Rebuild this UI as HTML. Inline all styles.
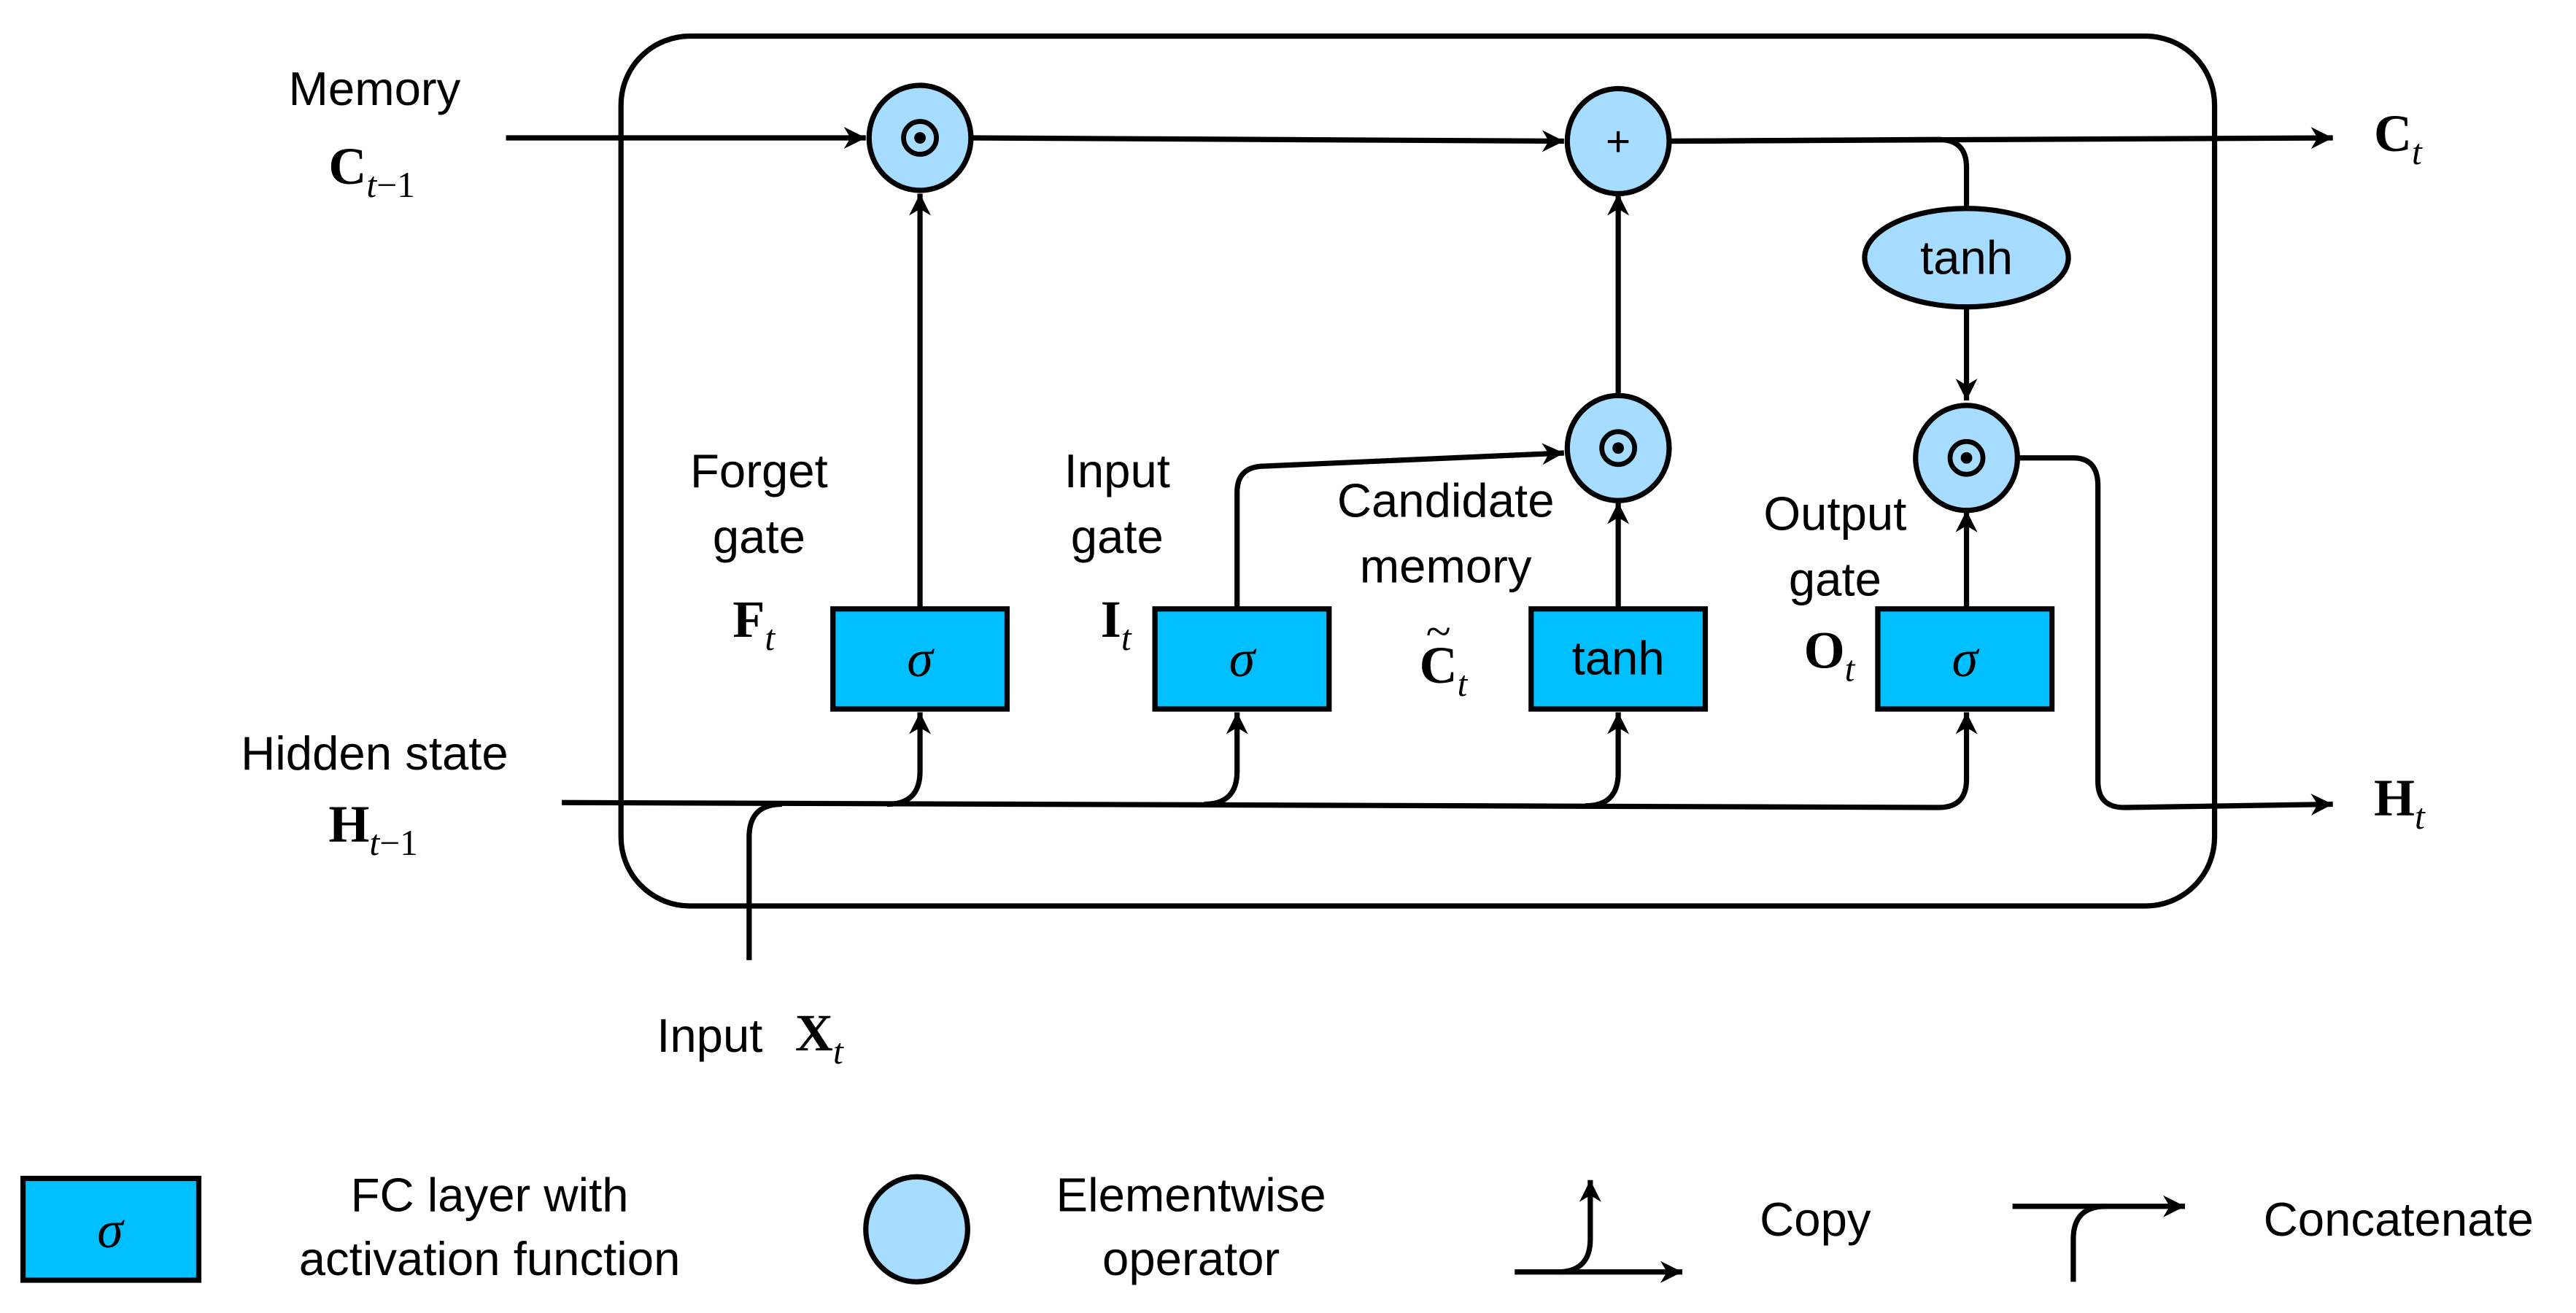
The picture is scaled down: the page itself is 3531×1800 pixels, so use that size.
<!DOCTYPE html>
<html><head><meta charset="utf-8"><style>html,body{margin:0;padding:0;background:#fff}svg{display:block}</style></head>
<body>
<svg width="3531" height="1800" viewBox="0 0 1568 800" preserveAspectRatio="none" xmlns="http://www.w3.org/2000/svg">
<defs>
<marker id="a" viewBox="0 0 12 12" refX="11" refY="6" markerWidth="18" markerHeight="16" markerUnits="userSpaceOnUse" orient="auto"><path d="M1,1 L11,6 L1,11 L4,6 Z" fill="#000"/></marker>
</defs>
<g fill="none" stroke="#000" stroke-width="3.2">
<rect x="378" y="22" width="970" height="530" rx="42"/>
<path d="M308,84 L527,84" marker-end="url(#a)"/>
<path d="M591,84 L952,86" marker-end="url(#a)"/>
<path d="M1017,86 L1180,85 Q1197,85 1197,102 L1197,126"/>
<path d="M1017,86 L1420,84" marker-end="url(#a)"/>
<path d="M1197,188 L1197,244" marker-end="url(#a)"/>
<path d="M1229,279 L1262,279 Q1277,279 1277,296 L1277,476 Q1277,492 1293,492 L1420,490" marker-end="url(#a)"/>
<path d="M342,489 L1180,492 Q1197,492 1197,475 L1197,434" marker-end="url(#a)"/>
<path d="M540,490 Q560,490 560,470 L560,434" marker-end="url(#a)"/>
<path d="M733,490 Q753,490 753,470 L753,434" marker-end="url(#a)"/>
<path d="M965,491 Q985,491 985,471 L985,434" marker-end="url(#a)"/>
<path d="M456,585 L456,510 Q456,490 476,490"/>
<path d="M560,370 L560,118" marker-end="url(#a)"/>
<path d="M753,370 L753,300 Q753,284 770,284 L952,276" marker-end="url(#a)"/>
<path d="M985,370 L985,306" marker-end="url(#a)"/>
<path d="M985,240 L985,118" marker-end="url(#a)"/>
<path d="M1197,370 L1197,311" marker-end="url(#a)"/>
</g>
<g stroke="#000" stroke-width="3.2">
<ellipse cx="560" cy="84" rx="31" ry="32" fill="#a6dcff"/>
<ellipse cx="985" cy="86" rx="31" ry="32" fill="#a6dcff"/>
<ellipse cx="985" cy="273" rx="31" ry="32" fill="#a6dcff"/>
<ellipse cx="1197" cy="279" rx="31" ry="32" fill="#a6dcff"/>
<ellipse cx="1197" cy="157" rx="62" ry="30" fill="#a6dcff"/>
<rect x="507" y="371" width="106" height="61" fill="#00bfff"/>
<rect x="703" y="371" width="106" height="61" fill="#00bfff"/>
<rect x="932" y="371" width="106" height="61" fill="#00bfff"/>
<rect x="1143" y="371" width="106" height="61" fill="#00bfff"/>
<rect x="14" y="718" width="107" height="62" fill="#00bfff"/>
<ellipse cx="558" cy="749" rx="31" ry="32" fill="#a6dcff"/>
</g>
<g fill="none" stroke="#000" stroke-width="3">
<circle cx="560" cy="84" r="10"/><circle cx="985" cy="273" r="10"/><circle cx="1197" cy="279" r="10"/>
</g>
<g fill="#000"><circle cx="560" cy="84" r="3.5"/><circle cx="985" cy="273" r="3.5"/><circle cx="1197" cy="279" r="3.5"/></g>
<g fill="none" stroke="#000" stroke-width="3.2">
<path d="M922,775 L1024,775" marker-end="url(#a)"/>
<path d="M948,775 Q968,775 968,755 L968,719" marker-end="url(#a)"/>
<path d="M1225,735 L1330,735" marker-end="url(#a)"/>
<path d="M1262,781 L1262,755 Q1262,735 1282,735"/>
</g>
<g font-family="Liberation Sans, sans-serif" font-size="29" fill="#000" text-anchor="middle">
<text x="985" y="95" font-size="26">+</text>
<text x="1197" y="167">tanh</text>
<text x="985" y="411">tanh</text>
<text x="228" y="64">Memory</text>
<text x="228" y="469">Hidden state</text>
<text x="462" y="297">Forget</text><text x="462" y="337">gate</text>
<text x="680" y="297">Input</text><text x="680" y="337">gate</text>
<text x="880" y="315">Candidate</text><text x="880" y="355">memory</text>
<text x="1117" y="323">Output</text><text x="1117" y="363">gate</text>
<text x="298" y="738">FC layer with</text><text x="298" y="777">activation function</text>
<text x="725" y="738">Elementwise</text><text x="725" y="777">operator</text>
<text x="1105" y="753">Copy</text>
<text x="1460" y="753">Concatenate</text>
<text x="432" y="641">Input</text>
</g>
<g font-family="Liberation Serif, serif" font-size="32" fill="#000">
<text x="560" y="412" font-style="italic" text-anchor="middle">σ</text>
<text x="756" y="412" font-style="italic" text-anchor="middle">σ</text>
<text x="1196" y="412" font-style="italic" text-anchor="middle">σ</text>
<text x="67" y="760" font-style="italic" text-anchor="middle">σ</text>
<text x="200" y="112" font-weight="bold">C<tspan font-size="22" font-weight="normal" font-style="italic" dy="8">t</tspan><tspan font-size="22" font-weight="normal">−1</tspan></text>
<text x="200" y="513" font-weight="bold">H<tspan font-size="22" font-weight="normal" font-style="italic" dy="8">t</tspan><tspan font-size="22" font-weight="normal">−1</tspan></text>
<text x="1445" y="92" font-weight="bold">C<tspan font-size="22" font-weight="normal" font-style="italic" dy="8">t</tspan></text>
<text x="1445" y="497" font-weight="bold">H<tspan font-size="22" font-weight="normal" font-style="italic" dy="8">t</tspan></text>
<text x="484" y="640" font-weight="bold">X<tspan font-size="22" font-weight="normal" font-style="italic" dy="8">t</tspan></text>
<text x="446" y="388" font-weight="bold">F<tspan font-size="22" font-weight="normal" font-style="italic" dy="8">t</tspan></text>
<text x="670" y="388" font-weight="bold">I<tspan font-size="22" font-weight="normal" font-style="italic" dy="8">t</tspan></text>
<text x="864" y="416" font-weight="bold">C<tspan font-size="22" font-weight="normal" font-style="italic" dy="8">t</tspan></text>
<text x="868" y="394" font-size="28">~</text>
<text x="1098" y="407" font-weight="bold">O<tspan font-size="22" font-weight="normal" font-style="italic" dy="8">t</tspan></text>
</g>
</svg>
</body></html>
